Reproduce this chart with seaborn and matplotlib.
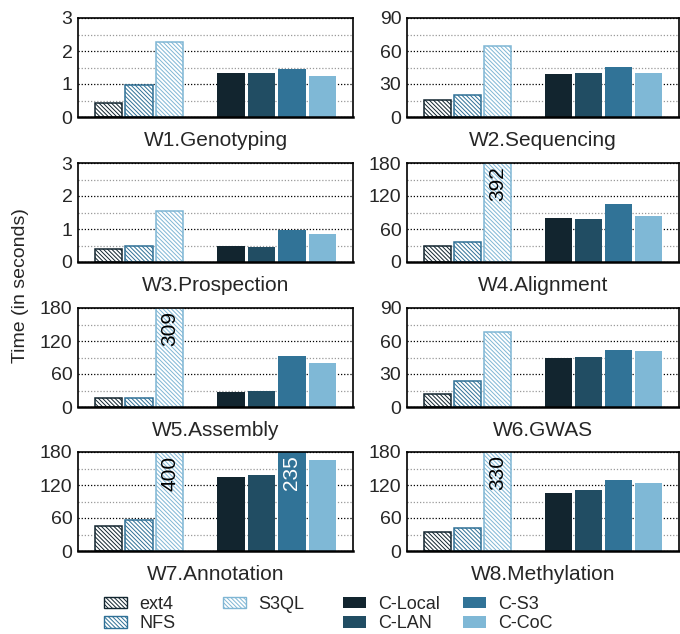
"""Per-workflow execution time, local FS vs. cloud-backed variants."""
import matplotlib
matplotlib.use("Agg")
import matplotlib.pyplot as plt
from matplotlib.patches import Patch
from matplotlib.ticker import MultipleLocator
import pandas as pd
import seaborn as sns

SYSTEMS = ["ext4", "NFS", "S3QL", "C-Local", "C-LAN", "C-S3", "C-CoC"]
SLOTS = ["ext4", "NFS", "S3QL", " ", "C-Local", "C-LAN", "C-S3", "C-CoC"]
WORKFLOWS = ["W1.Genotyping", "W2.Sequencing", "W3.Prospection", "W4.Alignment",
             "W5.Assembly", "W6.GWAS", "W7.Annotation", "W8.Methylation"]

w1 = [0.42, 0.97, 2.28, 1.33, 1.33, 1.45, 1.25]
w2 = [15.5, 19.7, 64.5, 39, 40, 45.5, 40]
w3 = [0.39, 0.48, 1.55, 0.49, 0.45, 0.98, 0.85]
w4 = [30, 36, 392, 80, 78, 106, 83.5]
w5 = [16, 17, 309, 27, 28.5, 92, 79.5]
w6 = [11.5, 23.4, 68.5, 44.5, 45.5, 51.5, 50.6]
w7 = [45.5, 57, 400, 134, 138, 235, 165]
w8 = [35, 42, 330, 105.6, 110.5, 129, 124]
VALUES = [w1, w2, w3, w4, w5, w6, w7, w8]

Y_MAX = [3, 90, 3, 180, 180, 90, 180, 180]
Y_STEP = [1, 30, 1, 60, 60, 30, 60, 60]

COLORS = {"ext4": "#12252f", "NFS": "#2f7096", "S3QL": "#7fb6d4",
          "C-Local": "#12252f", "C-LAN": "#214d63", "C-S3": "#317397",
          "C-CoC": "#7fb8d6"}
HATCHED = {"ext4", "NFS", "S3QL"}
HATCH = "\\" * 8

sns.set_style("white")
plt.rcParams["font.family"] = ["Liberation Sans", "DejaVu Sans"]
plt.rcParams["hatch.linewidth"] = 0.7
FS = 14
FS_LAB = 15
FS_LEG = 13

fig = plt.figure(figsize=(6.8, 6.34), dpi=100)
lefts = [78 / 680, 407 / 680]
bottoms = [1 - 117 / 634, 1 - 262 / 634, 1 - 407 / 634, 1 - 551 / 634]
widths = [275 / 680, 272 / 680]
height = 99 / 634

for i, (name, vals) in enumerate(zip(WORKFLOWS, VALUES)):
    r, c = divmod(i, 2)
    ax = fig.add_axes([lefts[c], bottoms[r], widths[c], height])
    df = pd.DataFrame({"system": SYSTEMS, "time": vals})
    sns.barplot(data=df, x="system", y="time", order=SLOTS, hue="system",
                hue_order=SYSTEMS, palette=COLORS, width=0.9, legend=False,
                saturation=1, ax=ax)

    for p in ax.patches:
        idx = int(round(p.get_x() + p.get_width() / 2))
        sysname = SLOTS[idx]
        col = COLORS[sysname]
        if sysname in HATCHED:
            p.set_facecolor("white")
            p.set_edgecolor(col)
            p.set_hatch(HATCH)
            p.set_linewidth(1.1)
        else:
            p.set_facecolor(col)
            p.set_edgecolor("none")

    ymax = Y_MAX[i]
    ax.set_ylim(0, ymax)
    ax.set_xlim(-1.0, 8.0)
    ax.yaxis.set_major_locator(MultipleLocator(Y_STEP[i]))
    ax.yaxis.set_minor_locator(MultipleLocator(Y_STEP[i] / 2))
    ax.set_axisbelow(True)
    ax.yaxis.grid(True, which="major", linestyle=(0, (1, 1.5)), color="black", lw=0.9)
    ax.yaxis.grid(True, which="minor", linestyle=(0, (1, 1.5)), color="#999999", lw=0.9)
    ax.tick_params(axis="y", which="major", direction="in", length=4, labelsize=FS, pad=4)
    ax.tick_params(axis="y", which="minor", length=0)
    ax.set_xticks([])
    ax.set_xlabel(name, fontsize=FS_LAB, labelpad=10)
    ax.set_ylabel("")
    for s in ax.spines.values():
        s.set_visible(True)
        s.set_color("black")
        s.set_linewidth(1.2)
    ax.spines["bottom"].set_linewidth(1.8)

    # values that run past the axis get written inside the bar
    for j, v in enumerate(vals):
        if v > ymax:
            xpos = SLOTS.index(SYSTEMS[j])
            tc = "black" if SYSTEMS[j] in HATCHED else "white"
            ax.text(xpos, 0.965, f"{v:g}", rotation=90, ha="center", va="top",
                    fontsize=FS_LAB, color=tc,
                    transform=ax.get_xaxis_transform())

fig.text(0.03, 0.55, "Time (in seconds)", rotation=90, ha="center", va="center",
         fontsize=FS)


def legend_handle(sname):
    if sname is None:
        return Patch(visible=False)
    if sname in HATCHED:
        return Patch(facecolor="white", edgecolor=COLORS[sname], hatch=HATCH,
                     linewidth=1.0)
    return Patch(facecolor=COLORS[sname], edgecolor="none")


# four fixed-width legend columns, as in the original figure
columns = [["ext4", "NFS"], ["S3QL", None], ["C-Local", "C-LAN"], ["C-S3", "C-CoC"]]
col_x = [104, 223, 343, 463]
for names, x0 in zip(columns, col_x):
    fig.legend([legend_handle(n) for n in names], [n or "" for n in names],
               loc="upper left", bbox_to_anchor=(x0 / 680, 1 - 596 / 634),
               frameon=False, fontsize=FS_LEG, handlelength=1.3,
               handleheight=0.6, handletextpad=0.65, labelspacing=0.12,
               borderpad=0, borderaxespad=0)

fig.savefig("out.png", dpi=100)
